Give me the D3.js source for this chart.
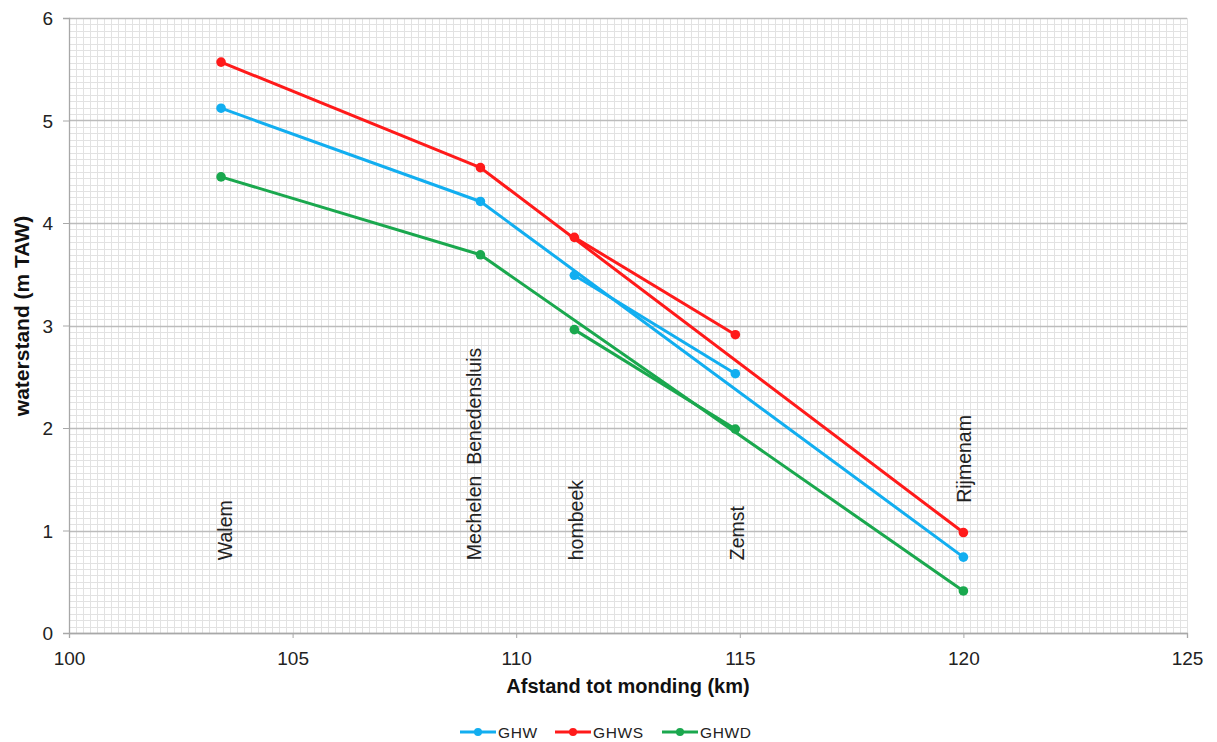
<!DOCTYPE html>
<html><head><meta charset="utf-8">
<script src="https://cdn.jsdelivr.net/npm/d3@7"></script>
<style>body{margin:0;background:#fff}svg{display:block}text{font-family:"Liberation Sans",Arial,sans-serif}</style>
</head><body>
<svg id="chart" width="1217" height="742"></svg>
<script>
// ---- data ----
const stations = ["Walem", "Mechelen  Benedensluis", "hombeek", "Zemst", "Rijmenam"];
const km = [103.4, 109.2, 111.3, 114.9, 120.0];
const ghw  = [5.12, 4.21, 3.49, 2.53, 0.74];
const ghws = [5.57, 4.54, 3.86, 2.91, 0.98];
const ghwd = [4.45, 3.69, 2.96, 1.99, 0.41];
const mainRoute = [0, 1, 4];     // Walem - Mechelen - Rijmenam
const branchRoute = [2, 3];      // hombeek - Zemst
const labelKm = [103.65, 109.21, 111.5, 115.1, 120.17];
const labelLevel = [0.71, 0.71, 0.71, 0.71, 1.27];
const seriesNames = ["GHW", "GHWS", "GHWD"];
const seriesValues = [ghw, ghws, ghwd];
const seriesColors = ["#12aef0", "#ff1a1a", "#1aa84e"];
const xTicks = [100, 105, 110, 115, 120, 125];
const yTicks = [0, 1, 2, 3, 4, 5, 6];

// ---- layout ----
const svg = d3.select("#chart");
const L = 69, R = 1187, T = 18, B = 633;
const x = d3.scaleLinear().domain([100, 125]).range([L, R]);
const y = d3.scaleLinear().domain([0, 6]).range([B, T]);
const font = '"Liberation Sans",Arial,sans-serif';

// minor grid
const g = svg.append("g");
g.selectAll("line.mx").data(d3.range(100, 125.0001, 5 / 32)).join("line")
  .attr("x1", d => Math.round(x(d)) + 0.5).attr("x2", d => Math.round(x(d)) + 0.5)
  .attr("y1", T).attr("y2", B).attr("stroke", "#e2e2e2").attr("stroke-width", 1);
g.selectAll("line.my").data(d3.range(0, 6.0001, 1 / 16)).join("line")
  .attr("y1", d => Math.round(y(d)) + 0.5).attr("y2", d => Math.round(y(d)) + 0.5)
  .attr("x1", L).attr("x2", R).attr("stroke", "#e2e2e2").attr("stroke-width", 1);
// major horizontal grid
g.selectAll("line.maj").data(yTicks).join("line")
  .attr("y1", d => Math.round(y(d)) + 0.5).attr("y2", d => Math.round(y(d)) + 0.5)
  .attr("x1", L).attr("x2", R).attr("stroke", "#bcbcbc").attr("stroke-width", 1.3);

// axes
const xAxis = d3.axisBottom(x).tickValues(xTicks).tickFormat(d3.format("d")).tickSize(5).tickPadding(14);
const yAxis = d3.axisLeft(y).tickValues(yTicks).tickFormat(d3.format("d")).tickSize(6).tickPadding(10);
const gx = svg.append("g").attr("transform", `translate(0,${B})`).call(xAxis);
const gy = svg.append("g").attr("transform", `translate(${L},0)`).call(yAxis);
[gx, gy].forEach(a => {
  a.select(".domain").attr("stroke", "#a8a8a8").attr("stroke-width", 1.3);
  a.selectAll(".tick line").attr("stroke", "#a8a8a8");
  a.selectAll(".tick text").attr("font-family", font).attr("font-size", 19).attr("fill", "#222");
});
gy.selectAll(".tick text").attr("dy", "0.36em");

// axis titles
svg.append("text").attr("x", (L + R) / 2).attr("y", 693).attr("text-anchor", "middle")
  .attr("font-size", 20).attr("font-weight", "bold").attr("fill", "#111").text("Afstand tot monding (km)");
svg.append("text").attr("transform", `translate(29,${316}) rotate(-90)`).attr("text-anchor", "middle")
  .attr("font-size", 21).attr("font-weight", "bold").attr("fill", "#111").text("waterstand (m TAW)");

// station labels
svg.selectAll("text.st").data(stations).join("text")
  .attr("transform", (d, i) => `translate(${x(labelKm[i])},${y(labelLevel[i])}) rotate(-90)`)
  .attr("font-size", 19.5).attr("fill", "#222").style("white-space", "pre").text(d => d);

// series
const line = d3.line().x(i => x(km[i]));
seriesValues.forEach((vals, s) => {
  const gs = svg.append("g");
  line.y(i => y(vals[i]));
  [mainRoute, branchRoute].forEach(route => {
    gs.append("path").attr("d", line(route)).attr("fill", "none")
      .attr("stroke", seriesColors[s]).attr("stroke-width", 3).attr("stroke-linejoin", "round");
  });
  gs.selectAll("circle").data(km).join("circle")
    .attr("cx", d => x(d)).attr("cy", (d, i) => y(vals[i])).attr("r", 4.8).attr("fill", seriesColors[s]);
});

// legend
const legX = [460, 555, 662];
const leg = svg.append("g");
seriesNames.forEach((n, s) => {
  const lg = leg.append("g").attr("transform", `translate(${legX[s]},732)`);
  lg.append("line").attr("x1", 0).attr("x2", 36).attr("stroke", seriesColors[s]).attr("stroke-width", 3);
  lg.append("circle").attr("cx", 18).attr("r", 4).attr("fill", seriesColors[s]);
  lg.append("text").attr("x", 38).attr("y", 5.5).attr("font-size", 15.5).attr("letter-spacing", 0.6)
    .attr("fill", "#222").text(n);
});
</script>
</body></html>
